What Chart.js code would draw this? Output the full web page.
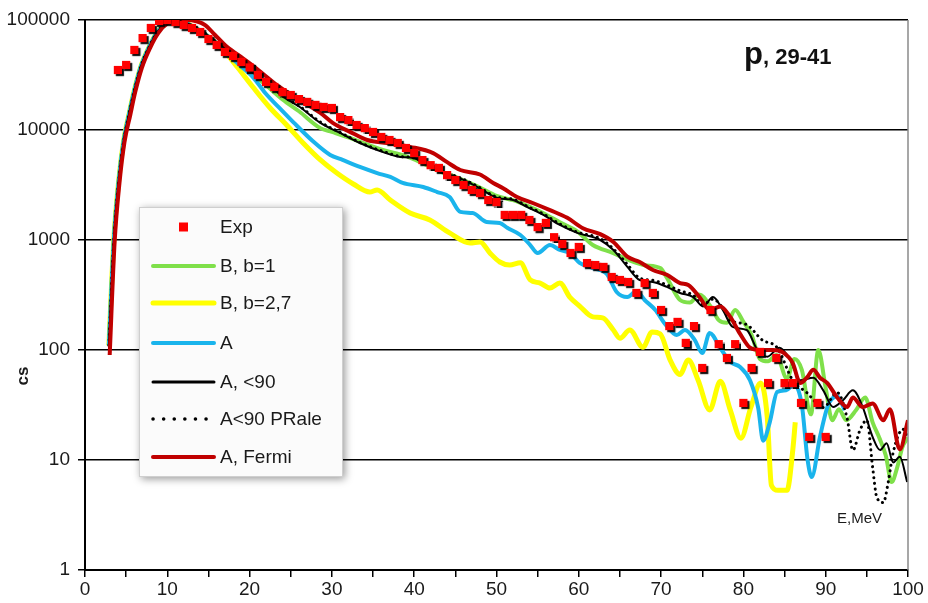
<!DOCTYPE html>
<html>
<head>
<meta charset="utf-8">
<script src="https://cdn.jsdelivr.net/npm/chart.js@4.4.1/dist/chart.umd.min.js"></script>
<style>
	html, body { margin: 0; padding: 0; background: #fff; }
	#chart { display: block; }
</style>
</head>
<body>
<canvas id="chart" width="928" height="603"></canvas>
<script>

/*
 * Proton spectrum, 29-41 degrees.
 * Energy in MeV on x, cross section (cs) on a log y.
 */
const expE = [
	4, 5, 6, 7, 8, 9, 10, 11, 12, 13, 14, 15, 16, 17, 18, 19, 20, 21, 22, 23,
	24, 25, 26, 27, 28, 29, 30, 31, 32, 33, 34, 35, 36, 37, 38, 39, 40, 41, 42, 43,
	44, 45, 46, 47, 48, 49, 50, 51, 52, 53, 54, 55, 56, 57, 58, 59, 60, 61, 62, 63,
	64, 65, 66, 67, 68, 69, 70, 71, 72, 73, 74, 75, 76, 77, 78, 79, 80, 81, 82, 83,
	84, 85, 86, 87, 88, 89, 90
];
const expCs = [
	35100, 39000, 53400, 68500, 84600, 98000, 100000, 95800, 90000, 84600,
	77800, 67200, 59300, 51200, 47100, 41500, 37000, 31600, 27300, 24600,
	22100, 20800, 19100, 18000, 16900, 16200, 15850, 13100, 12300, 11100,
	10400, 9590, 8640, 8110, 7620, 6860, 6170, 5330, 4790, 4520,
	3890, 3510, 3160, 2850, 2670, 2310, 2210, 1690, 1690, 1690,
	1520, 1310, 1430, 1060, 920, 762, 864, 617, 592, 569,
	461, 433, 415, 330, 406, 330, 231, 165, 180, 116,
	165, 68.6, 231, 113, 84.6, 113, 33, 68.6, 96, 50.1,
	84.6, 50, 50, 33, 16.2, 33, 16.2
];

// B, b=1
const calcB1 = [
	[2.9, 110], [3.5, 1000], [4.1, 3500], [4.7, 8000], [5.4, 14500], [6.0, 23000],
	[6.8, 38000], [7.8, 57000], [8.8, 78000], [10, 95000], [11, 100000], [12, 96000],
	[13, 88000], [14, 80000], [15, 71000], [16, 62000], [17, 55000], [18.5, 44000],
	[20, 34000], [22, 25500], [24, 19000], [26, 14800], [28.6, 10400], [30, 9620],
	[32.2, 8470], [34, 7500], [36.2, 6580], [38.3, 6000], [40, 5400], [41.6, 4750],
	[43.1, 4200], [45.2, 3700], [47.6, 3100], [50.1, 2500], [52, 2300], [53.7, 2050],
	[55.7, 1750], [57.7, 1450], [59.8, 1200], [61.7, 900], [64.2, 760], [66, 660],
	[68, 590], [69.9, 556], [70.7, 454], [72.3, 285], [73.5, 270], [74.6, 320],
	[76, 250], [77, 187], [78, 177], [79, 231], [80, 180], [81, 137], [82, 83],
	[83, 79], [84, 90], [85.3, 55], [86.2, 83], [87.1, 66], [88.2, 26], [89.1, 100],
	[90, 45], [90.8, 23], [91.6, 29], [92.5, 23], [93.7, 28.5], [94.8, 37], [95.7, 22],
	[96.5, 16], [97.3, 11], [98, 6.3], [98.7, 8.6], [99.3, 13], [100, 16]
];

// B, b=2,7
const calcB27 = [
	[2.9, 110], [3.5, 1000], [4.1, 3500], [4.7, 8000], [5.4, 14500], [6.0, 23000],
	[6.8, 38000], [7.8, 57000], [8.8, 78000], [10, 95000], [11, 100000], [12, 96000],
	[13, 88000], [14, 79000], [15, 69000], [16, 59000], [16.8, 53400], [18.5, 37400],
	[20.4, 24600], [22.5, 15850], [24.5, 11100], [26.5, 7620], [28.6, 5340], [30.6, 4060],
	[32.6, 3230], [34.6, 2730], [35.5, 2850], [37.1, 2310], [39.5, 1760], [41.9, 1520],
	[44.3, 1160], [46.8, 940], [48, 960], [49.2, 762], [50.4, 631], [51.6, 592],
	[52.9, 620], [54.1, 433], [55.3, 406], [56.5, 366], [57.7, 406], [58.9, 303],
	[60.1, 251], [61.7, 200], [62.9, 196], [64.2, 152], [65, 128], [66.2, 152],
	[67.8, 106], [68.9, 146], [69.9, 140], [71.1, 81], [72.3, 60], [73.3, 81],
	[74.5, 53], [75.9, 28.5], [77.2, 52], [78.4, 28.5], [79.7, 15.8], [80.9, 30],
	[82.1, 50], [82.9, 24.5], [83.4, 5.9], [84.2, 5.3], [85.3, 5.3], [86, 12.3], [86.3, 22]
];

// A
const calcA = [
	[2.9, 110], [3.5, 1000], [4.1, 3500], [4.7, 8000], [5.4, 14500], [6.0, 23000],
	[6.8, 38000], [7.8, 57000], [8.8, 78000], [10, 95000], [11, 100000], [12, 96000],
	[13, 88000], [14, 80000], [15, 70500], [16, 61000], [17, 52000], [18.5, 40600],
	[20.4, 30300], [21.9, 21700], [23.5, 16200], [25.3, 11800], [27.7, 7900], [29.8, 5930],
	[31.3, 5340], [33.4, 4610], [35.5, 4060], [37.1, 3740], [38.6, 3300], [41.1, 3030],
	[42.8, 2730], [44.3, 2460], [45.6, 1800], [47.1, 1760], [48.8, 1460], [50.4, 1430],
	[51.3, 1290], [52.9, 1110], [54.1, 900], [55, 762], [56.5, 900], [57.7, 811],
	[58.9, 762], [60.1, 620], [61.7, 556], [63.4, 491], [64.6, 337], [65.9, 303],
	[67, 343], [68, 285], [69.3, 231], [70.5, 172], [71.9, 137], [72.9, 152],
	[74.1, 123], [75, 94], [75.9, 143], [77.2, 104], [78.4, 78], [79.6, 70],
	[80.8, 53], [81.8, 29.7], [82.4, 15], [83.2, 22], [84.1, 41.5], [85.2, 43],
	[86.1, 48], [87.1, 31.6], [87.8, 10], [88.3, 7], [89.3, 16.2], [90.3, 31.6],
	[91.4, 38], [92.3, 28.5]
];

// A, <90
const calcA90 = [
	[2.9, 110], [3.5, 1000], [4.1, 3500], [4.7, 8000], [5.4, 14500], [6.0, 23000],
	[6.8, 38000], [7.8, 57000], [8.8, 78000], [10, 95000], [11, 100000], [12, 96000],
	[13, 89000], [14, 81000], [15, 72000], [16, 63000], [17, 56000], [18.5, 45000],
	[20, 35100], [22.1, 26700], [24.1, 19950], [26.1, 16200], [28.6, 11600], [31, 9400],
	[33.4, 7620], [36.2, 6300], [38.3, 5690], [39.9, 5560], [41.6, 4800], [43.1, 4150],
	[45.2, 3740], [47.6, 3050], [50.1, 2410], [52, 2310], [53.7, 2000], [55.7, 1690],
	[57.7, 1370], [59.8, 1160], [62.6, 1000], [64.2, 811], [65.9, 570], [67.4, 433],
	[69, 415], [70.7, 375], [72.3, 330], [73.9, 303], [75.1, 249], [76.3, 303],
	[77.5, 231], [78.7, 162], [80.4, 152], [81.7, 100], [82.9, 87], [84.4, 105],
	[85.7, 81], [86.9, 53], [88.5, 56], [89.7, 43], [90.9, 30.3], [92.1, 35],
	[93.3, 43], [94.5, 30.3], [95.7, 16.2], [96.6, 12.3], [97.4, 14.2], [98.2, 9.5],
	[99, 10.7], [99.9, 6.3]
];

// A<90 PRale
const calcA90PRale = [
	[2.9, 110], [3.5, 1000], [4.1, 3500], [4.7, 8000], [5.4, 14500], [6.0, 23000],
	[6.8, 38000], [7.8, 57000], [8.8, 78000], [10, 95000], [11, 100000], [12, 96000],
	[13, 89000], [14, 81000], [15, 72000], [16, 63000], [17, 56000], [18.5, 45500],
	[20, 35500], [22.1, 27000], [24.1, 20200], [26.1, 16400], [28.6, 11800], [31, 9500],
	[33.4, 7700], [36.2, 6400], [38.3, 5750], [39.9, 5600], [41.6, 4850], [43.1, 4200],
	[45.2, 3780], [47.6, 3100], [50.1, 2450], [52, 2350], [53.7, 2030], [55.7, 1720],
	[57.7, 1400], [59.8, 1180], [62.6, 1030], [64.2, 830], [65.9, 600], [67.4, 450],
	[69, 430], [70.7, 390], [72.3, 345], [73.9, 315], [75.1, 260], [76.3, 290],
	[77.5, 240], [78.4, 187], [80.4, 170], [82.3, 123], [84.1, 105], [86, 53],
	[87.7, 41], [89.7, 30], [91.4, 41], [92.6, 24], [93.3, 12.3], [94.2, 19],
	[95, 23], [95.7, 8.6], [96.2, 4.6], [97, 4.1], [97.6, 6.3], [98.2, 11.7],
	[99.4, 19], [100, 16]
];

// A, Fermi
const calcAFermi = [
	[3, 90], [3.6, 960], [4.2, 3370], [4.8, 7780], [5.5, 13700], [6.1, 22100],
	[6.9, 36600], [7.9, 55600], [8.9, 76000], [10.1, 94000], [11.3, 100000], [12.5, 100000],
	[13.4, 98000], [14.6, 90000], [15.8, 73100], [17, 59300], [18.6, 48100], [20.3, 38900],
	[21.5, 33000], [23.5, 25000], [26.1, 18700], [28.6, 14300], [30.1, 11600], [32.2, 9620],
	[34.3, 8110], [36.7, 7620], [39.5, 7030], [42.3, 6170], [44, 5100], [45.6, 4330],
	[48, 3940], [49.6, 3300], [50.8, 2960], [52.5, 2460], [54.4, 2170], [56.5, 1870],
	[58.6, 1590], [60.5, 1280], [62.6, 1130], [64.2, 960], [65.9, 706], [67.4, 631],
	[69, 534], [70.7, 483], [72.3, 406], [73.3, 390], [74.7, 300], [75.9, 231],
	[77.2, 249], [78.4, 200], [79.6, 140], [80.8, 105], [82, 100], [83.6, 100],
	[84.8, 95], [86, 76], [86.9, 50], [87.7, 56], [88.5, 66], [89.3, 56],
	[90.2, 50], [91.4, 37], [92.6, 30.3], [93.3, 37], [94.5, 30.3], [95.7, 32.7],
	[97, 23], [97.8, 29], [99, 12.5], [100, 23]
];

const yTicks = [1, 10, 100, 1000, 10000, 100000];

const FONT = "'Liberation Sans', Arial, sans-serif";
const TEXT = "#1a1a1a";

const toPoints = pairs => pairs.map(( [ x, y ] ) => ({ x, y }));

/*
 * A curve dataset.
 */
const curve = ( label, pairs, color, width, order, dash ) => ({
	label: label,
	data: toPoints( pairs ),
	borderColor: color,
	backgroundColor: color,
	borderWidth: width,
	borderDash: dash || [],
	borderCapStyle: dash ? "round" : "butt",
	borderJoinStyle: "round",
	cubicInterpolationMode: "monotone",
	pointRadius: 0,
	fill: false,
	order: order
});

const datasets = [
	{
		label: "Exp",
		type: "scatter",
		data: expE.map(( e, i ) => ({ x: e, y: expCs[i] })),
		pointStyle: "rect",
		pointRadius: 5.8,
		pointBorderWidth: 0,
		backgroundColor: "#ff0000",
		borderColor: "#ff0000",
		order: 0
	},
	curve( "B, b=1", calcB1, "#7fe04a", 4, 5 ),
	curve( "B, b=2,7", calcB27, "#ffff00", 5, 6 ),
	curve( "A", calcA, "#1ab4ec", 4, 4 ),
	curve( "A, <90", calcA90, "#000000", 2, 2 ),
	curve( "A<90 PRale", calcA90PRale, "#000000", 3, 3, [ 0.1, 5.5 ] ),
	curve( "A, Fermi", calcAFermi, "#c00000", 4, 1 )
];

/*
 * Drop shadow under the experimental squares.
 */
const expShadow = {
	id: "expShadow",
	beforeDatasetDraw( chart, args ) {
		if( args.index !== 0 ) return;
		const ctx = chart.ctx;
		ctx.save();
		ctx.shadowColor = "rgba(0,0,0,0.95)";
		ctx.shadowOffsetX = 2;
		ctx.shadowOffsetY = 2;
		ctx.shadowBlur = 1;
	},
	afterDatasetDraw( chart, args ) {
		if( args.index !== 0 ) return;
		chart.ctx.restore();
	}
};

/*
 * Boxed legend inside the plot, labels and the right edge line.
 */
const decorations = {
	id: "decorations",
	afterDatasetsDraw( chart ) {
		const ctx = chart.ctx;
		const area = chart.chartArea;

		// right edge of the plot
		ctx.save();
		ctx.strokeStyle = "#8a8a8a";
		ctx.lineWidth = 1.5;
		ctx.beginPath();
		ctx.moveTo( area.right, area.top );
		ctx.lineTo( area.right, area.bottom );
		ctx.stroke();
		ctx.restore();

		// legend box
		const box = { x: 139, y: 207, w: 204, h: 270 };
		ctx.save();
		ctx.shadowColor = "rgba(0,0,0,0.4)";
		ctx.shadowBlur = 8;
		ctx.shadowOffsetX = 2;
		ctx.shadowOffsetY = 2;
		ctx.fillStyle = "#fbfbfb";
		ctx.fillRect( box.x, box.y, box.w, box.h );
		ctx.restore();
		ctx.save();
		ctx.strokeStyle = "#cfcfcf";
		ctx.lineWidth = 1;
		ctx.strokeRect( box.x + 0.5, box.y + 0.5, box.w - 1, box.h - 1 );

		const rows = [ 227, 266, 303, 343, 382, 419, 457 ];
		ctx.font = "19px " + FONT;
		ctx.textBaseline = "middle";
		ctx.textAlign = "left";
		chart.data.datasets.forEach(( ds, i ) => {
			const y = rows[i];
			if( ds.type === "scatter" ) {
				ctx.fillStyle = ds.backgroundColor;
				ctx.fillRect( 179, y - 4.5, 9, 9 );
			}
			else {
				ctx.save();
				ctx.strokeStyle = ds.borderColor;
				ctx.lineWidth = ds.borderDash.length ? 3.5 : Math.max( ds.borderWidth, 3 );
				ctx.lineCap = "round";
				ctx.setLineDash( ds.borderDash.length ? [ 0.1, 10.5 ] : [] );
				ctx.beginPath();
				ctx.moveTo( 153, y );
				ctx.lineTo( 214, y );
				ctx.stroke();
				ctx.restore();
			}
			ctx.fillStyle = TEXT;
			ctx.fillText( ds.label, 220, y + 1 );
		});
		ctx.restore();

		// panel label
		ctx.save();
		ctx.fillStyle = "#111";
		ctx.textBaseline = "alphabetic";
		ctx.font = "bold 31px " + FONT;
		ctx.fillText( "p", 744, 64 );
		const pw = ctx.measureText( "p" ).width;
		ctx.font = "bold 22px " + FONT;
		ctx.fillText( ", 29-41", 744 + pw, 64 );

		// energy label
		ctx.font = "15px " + FONT;
		ctx.fillStyle = TEXT;
		ctx.fillText( "E,MeV", 837, 523 );

		// y title
		ctx.translate( 23, 376 );
		ctx.rotate( -Math.PI / 2 );
		ctx.font = "bold 17px " + FONT;
		ctx.textAlign = "center";
		ctx.textBaseline = "middle";
		ctx.fillText( "cs", 0, 0 );
		ctx.restore();
	}
};

new Chart( document.getElementById( "chart" ), {
	type: "line",
	data: { datasets: datasets },
	options: {
		responsive: false,
		animation: false,
		devicePixelRatio: 1,
		layout: {
			autoPadding: false,
			padding: { left: 0, top: 20, right: 20, bottom: 0 }
		},
		plugins: {
			legend: { display: false },
			title: { display: false },
			tooltip: { enabled: false }
		},
		scales: {
			x: {
				type: "linear",
				min: 0,
				max: 100,
				afterFit: scale => { scale.height = 33; },
				ticks: {
					stepSize: 5,
					autoSkip: false,
					maxRotation: 0,
					padding: 1,
					color: TEXT,
					font: { family: FONT, size: 19 },
					callback: v => v % 10 === 0 ? String( v ) : ""
				},
				grid: {
					drawOnChartArea: false,
					drawTicks: true,
					tickLength: 7,
					color: "#000",
					lineWidth: 1.5
				},
				border: { display: true, color: "#000", width: 2 }
			},
			y: {
				type: "logarithmic",
				min: 1,
				max: 100000,
				afterFit: scale => { scale.width = 85; },
				afterBuildTicks: scale => {
					scale.ticks = yTicks.map( v => ({ value: v, major: true }) );
				},
				ticks: {
					padding: 8,
					color: TEXT,
					font: { family: FONT, size: 19 },
					callback: v => String( v )
				},
				grid: {
					color: "#000",
					lineWidth: 1.5,
					drawTicks: true,
					tickLength: 7
				},
				border: { display: true, color: "#000", width: 2 }
			}
		}
	},
	plugins: [ expShadow, decorations ]
});
</script>
</body>
</html>
